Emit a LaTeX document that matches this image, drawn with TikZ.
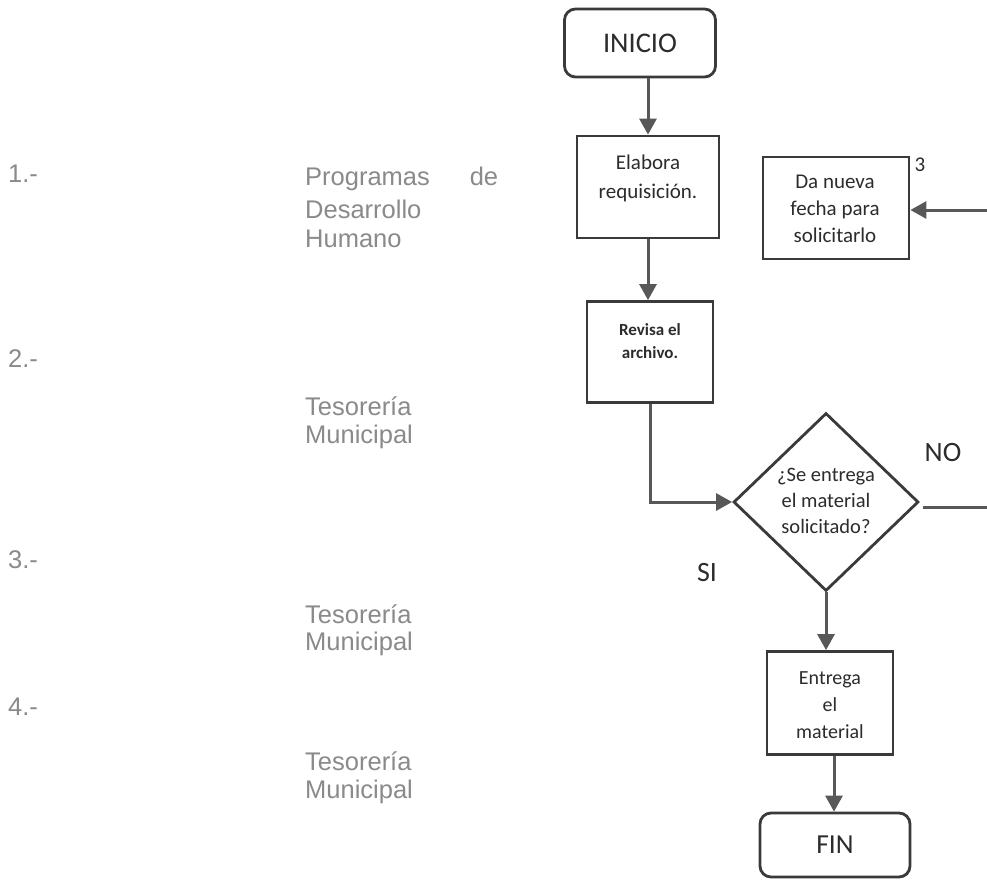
\documentclass[tikz,border=0pt]{standalone}
\usepackage{fontspec}
\setmainfont{Carlito}
\newfontfamily\arialf{Liberation Sans}
\usetikzlibrary{arrows.meta,shapes.geometric}
\definecolor{boxc}{HTML}{3A3A3A}
\definecolor{arrc}{HTML}{585858}
\definecolor{txtc}{HTML}{2C2C2C}
\definecolor{leftc}{HTML}{8A8A8A}
\tikzset{
  procbox/.style={draw=boxc, line width=2.8pt, inner sep=0pt},
  termbox/.style={draw=boxc, line width=2.8pt, rounded corners=11pt, inner sep=0pt, text=txtc},
  decision/.style={diamond, draw=boxc, line width=2.8pt, inner sep=0pt, minimum width=185pt, minimum height=178pt},
  intext/.style={align=center, text=txtc, inner sep=0pt},
  lefttxt/.style={text=leftc, inner sep=0pt, anchor=base west, font=\arialf\fontsize{25.5}{29}\selectfont},
  flow/.style={draw=arrc, line width=3pt, -{Triangle[length=16pt,width=17pt]}},
  plainline/.style={draw=arrc, line width=3pt}
}
\begin{document}
\begin{tikzpicture}[x=1pt,y=-1pt]
\useasboundingbox[fill=white] (0,0) rectangle (987,879);

% left column
\node[lefttxt] (n1) at (8,182) {1.-};
\node[lefttxt] (n2) at (8,367) {2.-};
\node[lefttxt] (n3) at (8,568) {3.-};
\node[lefttxt] (n4) at (8,715) {4.-};

\node[lefttxt] (a1) at (305,185) {\makebox[193pt][l]{Programas\hfill de}};
\node[lefttxt] (a2) at (305,218) {Desarrollo};
\node[lefttxt] (a3) at (305,247) {Humano};

\node[lefttxt] (b1) at (305,415) {Tesorería};
\node[lefttxt] (b2) at (305,443) {Municipal};

\node[lefttxt] (c1) at (305,623) {Tesorería};
\node[lefttxt] (c2) at (305,650) {Municipal};

\node[lefttxt] (d1) at (305,770) {Tesorería};
\node[lefttxt] (d2) at (305,798) {Municipal};

% flowchart
\node[termbox, minimum width=151pt, minimum height=68pt] (inicio) at (640,43) {\fontsize{28.5}{30}\selectfont INICIO};

\node[procbox, minimum width=142pt, minimum height=102pt] (elab) at (648,187) {};
\node[intext, font=\fontsize{21}{29}\selectfont] (elabt) at (648,178) {Elabora\\requisición.};

\node[procbox, minimum width=146pt, minimum height=102pt] (nueva) at (836,208) {};
\node[intext, font=\fontsize{21}{27}\selectfont] (nuevat) at (835,209) {Da nueva\\fecha para\\solicitarlo};
\node[intext, font=\fontsize{21}{22}\selectfont] (tres) at (920,165) {3};

\node[procbox, minimum width=126pt, minimum height=101pt] (rev) at (650,352) {};
\node[intext, font=\bfseries\fontsize{17}{23}\selectfont] (revt) at (650,341) {Revisa el\\archivo.};

\node[decision] (dec) at (826,502) {};
\node[intext, font=\fontsize{20.5}{26}\selectfont] (dect) at (826,501) {¿Se entrega\\el material\\solicitado?};

\node[intext, font=\fontsize{28}{30}\selectfont] (no) at (943,452) {NO};
\node[intext, font=\fontsize{28}{30}\selectfont] (si) at (707,572) {SI};

\node[procbox, minimum width=126pt, minimum height=103pt] (ent) at (830,703) {};
\node[intext, font=\fontsize{20}{27}\selectfont] (entt) at (830,705) {Entrega\\el\\material};

\node[termbox, minimum width=150pt, minimum height=64pt] (fin) at (835,845) {\fontsize{27.5}{30}\selectfont FIN};

\coordinate (rightedge) at (992,0);
\coordinate (retin) at (992,210);

% connectors
\draw[flow] (elab.north |- inicio.south) -- (elab.north);
\draw[flow] (elab.south) -- (elab.south |- rev.north);
\draw[flow] (rev.south) |- (dec.west);
\draw[plainline] ([xshift=3pt,yshift=-5pt]dec.east) -- ([yshift=-5pt]dec.east -| rightedge);
\draw[flow] (retin) -- (nueva.east |- retin);
\draw[flow] (dec.south) -- (dec.south |- ent.north);
\draw[flow] ([xshift=4pt]ent.south) -- ([xshift=4pt]ent.south |- fin.north);
\end{tikzpicture}
\end{document}
